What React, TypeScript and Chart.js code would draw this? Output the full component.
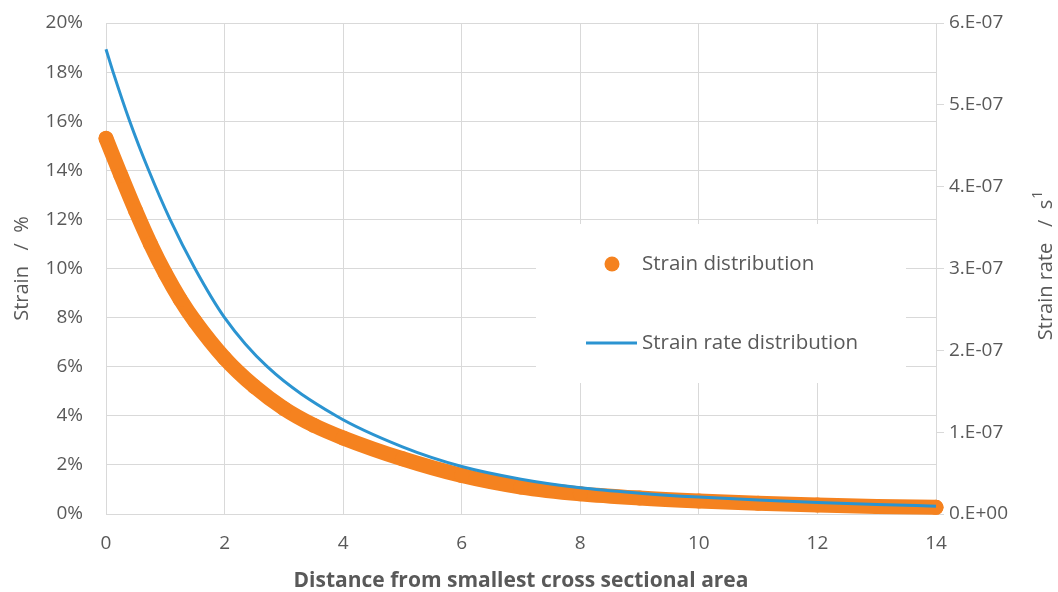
import React, { useEffect, useRef } from 'react';
import { Chart, registerables } from 'chart.js';

Chart.register(...registerables);

// Strain distribution (left axis, %)
const strainX = [0, 0.25, 0.5, 0.75, 1, 1.25, 1.5, 2, 2.5, 3, 3.5, 4, 5, 6, 7, 8, 9, 10, 11, 12, 13, 14];
const strainPct = [15.3, 13.8, 12.35, 11.0, 9.8, 8.75, 7.85, 6.35, 5.2, 4.3, 3.62, 3.1, 2.25, 1.57, 1.1, 0.82, 0.65, 0.53, 0.44, 0.37, 0.31, 0.27];

// Strain rate distribution (right axis, 1/s)
const rateX = [0, 0.12, 0.4, 0.72, 1.08, 1.5, 2, 2.72, 3.88, 5, 6, 7, 8, 9, 10, 11, 12, 13, 14];
const rateVal = [5.68e-7, 5.4e-7, 4.8e-7, 4.2e-7, 3.6e-7, 3.0e-7, 2.4e-7, 1.8e-7, 1.2e-7, 8.2e-8, 5.8e-8, 4.25e-8, 3.2e-8, 2.55e-8, 2.07e-8, 1.7e-8, 1.41e-8, 1.17e-8, 0.96e-8];

const xTicks = [0, 2, 4, 6, 8, 10, 12, 14];
const strainTicks = [0, 2, 4, 6, 8, 10, 12, 14, 16, 18, 20];
const rateTicks = [0, 1e-7, 2e-7, 3e-7, 4e-7, 5e-7, 6e-7];

const seriesNames = ['Strain distribution', 'Strain rate distribution'];
const axisTitles = {
  x: 'Distance from smallest cross sectional area',
  y: 'Strain   /  %',
  y2: 'Strain rate   /  s',
  y2sup: '1',
};

const ORANGE = '#F5821F';
const BLUE = '#2B94D1';
const GRID = '#D9D9D9';
const TEXT = '#595959';
const FONT = '"Open Sans"';

const overlayPlugin = {
  id: 'overlay',
  beforeDatasetsDraw(chart: any) {
    const ctx = chart.ctx;
    ctx.save();
    // legend box
    ctx.fillStyle = '#ffffff';
    ctx.fillRect(536, 224, 370, 159);
    // item 1: dot
    ctx.fillStyle = ORANGE;
    ctx.beginPath();
    ctx.arc(612, 264, 7.5, 0, Math.PI * 2);
    ctx.fill();
    ctx.fillStyle = TEXT;
    ctx.font = `20.5px ${FONT}`;
    ctx.textBaseline = 'middle';
    ctx.textAlign = 'left';
    ctx.fillText(seriesNames[0], 642, 264);
    // item 2: line
    ctx.strokeStyle = BLUE;
    ctx.lineWidth = 3;
    ctx.beginPath();
    ctx.moveTo(586, 343);
    ctx.lineTo(637, 343);
    ctx.stroke();
    ctx.fillText(seriesNames[1], 642, 343);
    ctx.restore();
  },
  afterDraw(chart: any) {
    const ctx = chart.ctx;
    ctx.save();
    ctx.fillStyle = TEXT;
    ctx.textBaseline = 'middle';
    ctx.textAlign = 'left';
    ctx.translate(1046, 266);
    ctx.rotate(-Math.PI / 2);
    ctx.font = `20px ${FONT}`;
    const w1 = ctx.measureText(axisTitles.y2).width;
    ctx.font = `14px ${FONT}`;
    const w2 = ctx.measureText(axisTitles.y2sup).width;
    const start = -(w1 + w2) / 2;
    ctx.font = `20px ${FONT}`;
    ctx.fillText(axisTitles.y2, start, 0);
    ctx.font = `14px ${FONT}`;
    ctx.fillText(axisTitles.y2sup, start + w1 + 1, -8);
    ctx.restore();
  },
};

const noPad = (s: any) => {
  s.paddingTop = 0;
  s.paddingBottom = 0;
};

export default function App() {
  const ref = useRef<HTMLCanvasElement>(null);

  useEffect(() => {
    if (!ref.current) return;
    const chart = new Chart(ref.current, {
      type: 'scatter',
      data: {
        datasets: [
          {
            label: seriesNames[1],
            data: rateX.map((x, i) => ({ x, y: rateVal[i] })),
            yAxisID: 'y2',
            showLine: true,
            borderColor: BLUE,
            backgroundColor: BLUE,
            borderWidth: 3,
            pointRadius: 0,
            cubicInterpolationMode: 'monotone',
            order: 0,
            clip: false,
          } as any,
          {
            label: seriesNames[0],
            data: strainX.map((x, i) => ({ x, y: strainPct[i] })),
            yAxisID: 'y',
            showLine: true,
            borderColor: ORANGE,
            backgroundColor: ORANGE,
            borderWidth: 15,
            borderCapStyle: 'round',
            borderJoinStyle: 'round',
            pointRadius: 7.5,
            pointBorderWidth: 0,
            pointBackgroundColor: ORANGE,
            cubicInterpolationMode: 'monotone',
            order: 1,
            clip: false,
          } as any,
        ],
      },
      options: {
        animation: false,
        responsive: false,
        layout: { padding: { top: 23, left: 0, right: 0, bottom: 0 } },
        plugins: {
          legend: { display: false },
          tooltip: { enabled: false },
        },
        scales: {
          x: {
            type: 'linear',
            min: 0,
            max: 14,
            afterBuildTicks: (s: any) => { s.ticks = xTicks.map((v) => ({ value: v })); },
            afterFit: (s: any) => { s.height = 78; },
            grid: { color: GRID, drawTicks: false, lineWidth: 1 },
            border: { display: false },
            ticks: { color: TEXT, font: { family: FONT, size: 19 }, padding: 18, maxRotation: 0 },
            title: {
              display: true,
              text: axisTitles.x,
              color: TEXT,
              font: { family: FONT, size: 21, weight: 'bold' },
              padding: { top: 0, bottom: -2 },
            },
          },
          y: {
            type: 'linear',
            position: 'left',
            min: 0,
            max: 20,
            afterBuildTicks: (s: any) => { s.ticks = strainTicks.map((v) => ({ value: v })); },
            afterFit: (s: any) => { s.width = 106; noPad(s); },
            grid: { color: GRID, drawTicks: false, lineWidth: 1 },
            border: { display: false },
            ticks: {
              color: TEXT,
              font: { family: FONT, size: 19 },
              padding: 23,
              callback: (v: any) => `${v}%`,
            },
            title: {
              display: true,
              text: axisTitles.y,
              color: TEXT,
              font: { family: FONT, size: 20 },
              padding: { top: 10, bottom: 0 },
            },
          },
          y2: {
            type: 'linear',
            position: 'right',
            min: 0,
            max: 6e-7,
            afterBuildTicks: (s: any) => { s.ticks = rateTicks.map((v) => ({ value: v })); },
            afterFit: (s: any) => { s.width = 122; noPad(s); },
            grid: { color: GRID, drawOnChartArea: false, drawTicks: true, tickLength: 8 },
            border: { display: true, color: GRID },
            ticks: {
              color: TEXT,
              font: { family: FONT, size: 19 },
              padding: 5,
              callback: (v: any) => {
                const n = Math.round(v * 1e7);
                return n === 0 ? '0.E+00' : `${n}.E-07`;
              },
            },
          },
        },
      },
      plugins: [overlayPlugin],
    } as any);
    return () => chart.destroy();
  }, []);

  return (
    <div style={{ position: 'absolute', left: 0, top: 0, width: 1058, height: 592, background: '#fff' }}>
      <canvas ref={ref} width={1058} height={592} style={{ display: 'block' }} />
    </div>
  );
}
